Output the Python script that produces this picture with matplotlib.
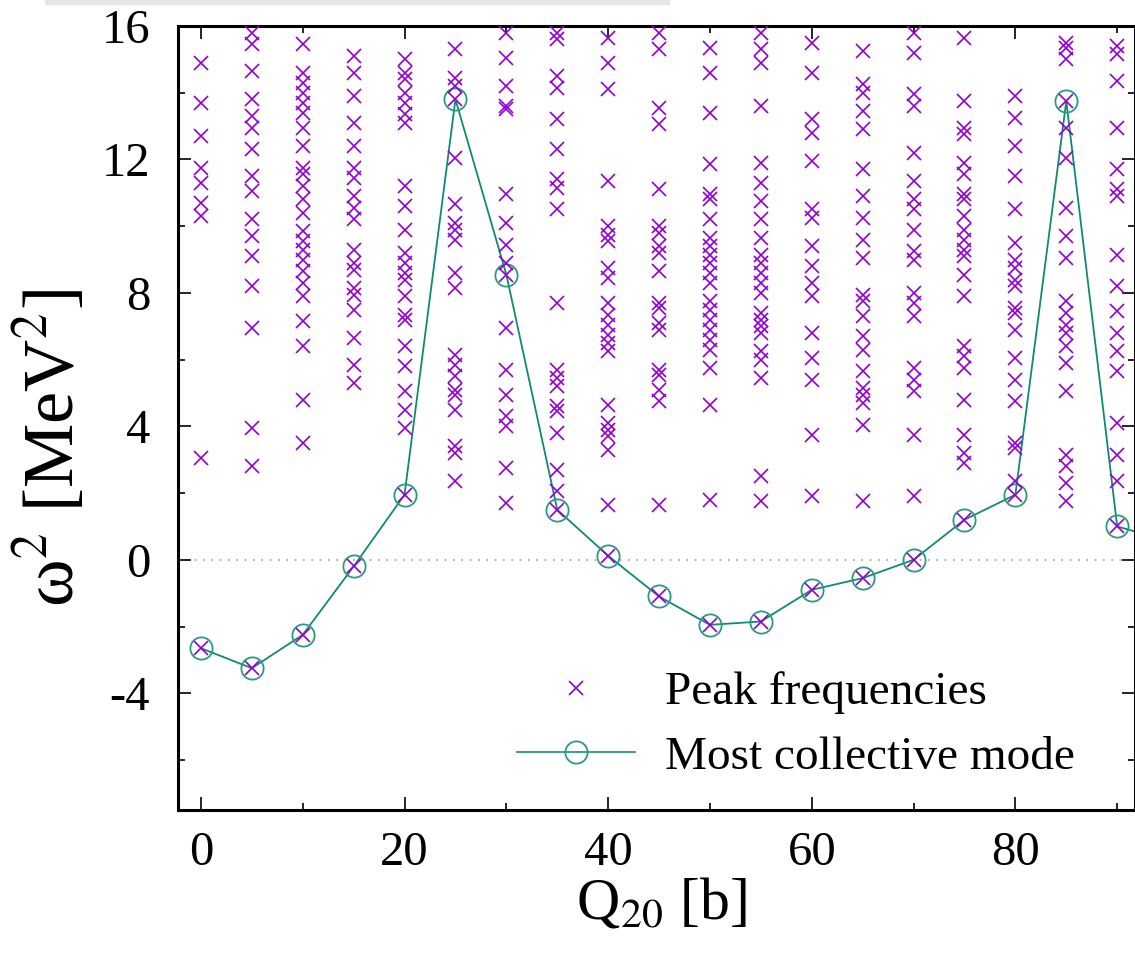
import numpy as np
import matplotlib
matplotlib.use("Agg")
import matplotlib.pyplot as plt
from matplotlib.lines import Line2D
from matplotlib.patches import Rectangle

# Q20 grid (b)
q20 = [0, 5, 10, 15, 20, 25, 30, 35, 40, 45, 50, 55, 60, 65, 70, 75, 80, 85, 90, 95]

# most collective mode, omega^2 (MeV^2)
collective = [-2.65, -3.25, -2.25, -0.2, 1.95, 13.8, 8.55, 1.5, 0.12, -1.1,
              -1.95, -1.85, -0.9, -0.55, 0.0, 1.2, 1.95, 13.75, 1.0, 0.57]

# other peak frequencies, one list per Q20 value
peaks_q00 = [14.9, 13.7, 12.7, 11.75, 11.3, 10.7, 10.3, 3.05]
peaks_q05 = [15.8, 15.45, 14.65, 13.8, 13.3, 12.95, 12.3, 11.5, 11.05, 10.2, 9.7,
             9.1, 8.2, 6.95, 3.95, 2.8]
peaks_q10 = [15.45, 14.6, 14.3, 14.0, 13.7, 13.4, 12.95, 12.4, 11.75, 11.55, 11.2,
             10.8, 10.4, 9.85, 9.55, 9.3, 9.0, 8.65, 8.3, 7.9, 7.15, 6.4, 4.8, 3.5]
peaks_q15 = [15.1, 14.6, 13.9, 13.1, 12.4, 11.75, 11.45, 10.9, 10.55, 10.2, 9.3,
             8.9, 8.7, 8.15, 7.95, 7.5, 6.65, 5.85, 5.3]
peaks_q20 = [15.0, 14.6, 14.4, 14.0, 13.7, 13.35, 13.1, 11.2, 10.6, 9.9, 9.2, 8.9,
             8.6, 8.4, 7.9, 7.35, 7.2, 6.4, 5.8, 5.05, 4.5, 3.95]
peaks_q25 = [15.3, 14.45, 14.2, 12.05, 10.65, 10.1, 9.9, 9.6, 8.6, 8.15, 6.15,
             5.85, 5.5, 5.1, 4.95, 4.5, 3.4, 3.2, 2.35]
peaks_q30 = [15.8, 15.05, 14.2, 13.6, 13.5, 10.95, 10.1, 9.45, 8.9, 6.95, 5.7,
             4.95, 4.3, 4.0, 2.75, 1.7]
peaks_q35 = [15.8, 15.6, 14.5, 14.15, 13.2, 12.3, 11.4, 11.15, 10.5, 7.7, 5.7,
             5.45, 5.2, 4.6, 4.45, 3.8, 2.7, 2.05]
peaks_q40 = [15.65, 14.9, 14.1, 11.35, 10.0, 9.75, 9.55, 8.75, 8.45, 7.7, 7.35,
             7.05, 6.75, 6.5, 6.25, 4.65, 4.1, 3.9, 3.7, 3.3, 1.65]
peaks_q45 = [15.8, 15.3, 13.55, 13.05, 11.1, 10.0, 9.8, 9.4, 9.2, 8.65, 7.7, 7.55,
             7.1, 6.9, 5.7, 5.55, 5.1, 4.75, 1.65]
peaks_q50 = [15.35, 14.6, 13.4, 11.85, 10.95, 10.8, 10.2, 9.65, 9.4, 9.15, 8.9,
             8.6, 8.3, 7.75, 7.5, 7.2, 6.9, 6.6, 6.3, 5.75, 4.65, 1.8]
peaks_q55 = [15.8, 15.3, 14.9, 13.6, 11.9, 11.3, 10.75, 10.2, 9.65, 9.15, 8.9,
             8.6, 8.3, 8.0, 7.4, 7.2, 7.0, 6.8, 6.25, 6.0, 5.45, 2.5, 1.75]
peaks_q60 = [15.5, 14.6, 13.2, 12.8, 11.95, 10.5, 10.25, 9.4, 8.8, 8.3, 7.9, 6.8,
             6.05, 5.4, 3.75, 1.9]
peaks_q65 = [15.25, 14.25, 14.0, 13.45, 12.9, 11.7, 10.9, 10.25, 9.6, 9.05, 7.95,
             7.75, 7.3, 6.7, 6.3, 5.65, 5.15, 4.95, 4.7, 4.05, 1.75]
peaks_q70 = [15.8, 15.2, 13.95, 13.6, 12.2, 11.35, 10.8, 10.5, 9.9, 9.25, 9.0, 8.0,
             7.7, 7.3, 5.75, 5.4, 5.05, 3.75, 1.9]
peaks_q75 = [15.65, 13.75, 12.95, 12.75, 11.9, 11.55, 10.95, 10.8, 10.3, 9.9, 9.6,
             9.3, 9.1, 8.55, 7.9, 6.4, 6.1, 5.75, 4.8, 3.75, 3.2, 2.9]
peaks_q80 = [13.9, 13.25, 12.4, 11.5, 10.5, 9.5, 9.0, 8.75, 8.4, 8.2, 7.55, 7.4,
             6.9, 6.05, 5.4, 4.75, 3.5, 3.35, 2.35]
peaks_q85 = [15.5, 15.35, 15.0, 12.95, 12.05, 10.55, 9.7, 9.05, 7.75, 7.4, 7.05,
             6.8, 6.4, 5.9, 5.05, 3.15, 2.8, 2.3, 1.75]
peaks_q90 = [15.4, 15.15, 14.35, 12.95, 11.7, 11.1, 10.9, 9.15, 8.2, 7.45, 6.8,
             6.25, 5.65, 4.1, 3.15, 2.35]
peaks_q95 = []

peak_lists = [peaks_q00, peaks_q05, peaks_q10, peaks_q15, peaks_q20, peaks_q25,
              peaks_q30, peaks_q35, peaks_q40, peaks_q45, peaks_q50, peaks_q55,
              peaks_q60, peaks_q65, peaks_q70, peaks_q75, peaks_q80, peaks_q85,
              peaks_q90, peaks_q95]

PURPLE = '#9400d3'
GREEN = '#0f8a74'
CIRC = '#2a9a80'

plt.rcParams['font.family'] = ['Liberation Serif', 'DejaVu Serif']
plt.rcParams['mathtext.fontset'] = 'stix'
plt.rcParams['axes.unicode_minus'] = False

fig = plt.figure(figsize=(11.35, 9.55), dpi=100)
ax = fig.add_axes([178/1135, 145/955, 957/1135, 784/955])

# light grey strip at the very top (screenshot leftover)
fig.patches.append(Rectangle((45/1135, 951/955), 624/1135, 4/955,
                             transform=fig.transFigure, color='#e6e6e6', zorder=0))

# every collective mode is also a peak
xs, ys = [], []
for q, pl, c in zip(q20, peak_lists, collective):
    for v in pl + [c]:
        xs.append(q)
        ys.append(v)

ax.axhline(0, color='#a0a0a0', lw=1.2, ls=(0, (1, 4)), zorder=1)
ax.plot(q20, collective, '-', color=GREEN, lw=1.3, zorder=2)
ax.plot(q20, collective, 'o', mfc='none', mec=CIRC, ms=16, mew=1.3, zorder=3)
ax.plot(xs, ys, 'x', color=PURPLE, ms=10, mew=1.2, zorder=4)

ax.set_xlim(-2.25, 91.75)
ax.set_ylim(-7.5, 16)
ax.set_xticks(np.arange(0, 81, 20))
ax.set_xticks(np.arange(0, 91, 10), minor=True)
ax.set_yticks(np.arange(-4, 17, 4))
ax.set_yticks(np.arange(-6, 17, 2), minor=True)
ax.tick_params(which='both', direction='in', top=True, right=True, width=1.2,
               labelsize=35)
ax.tick_params(which='major', length=9.5)
ax.tick_params(which='minor', length=5)
ax.tick_params(axis='x', pad=15)
ax.tick_params(axis='y', pad=20)
for s in ax.spines.values():
    s.set_linewidth(2.2)

ax.set_xlabel('Q$_{20}$ [b]', fontsize=43)
ax.set_ylabel('ω$^2$ [MeV$^2$]', fontsize=52)
ax.xaxis.set_label_coords(0.505, -0.085)
ax.yaxis.set_label_coords(-0.094, 0.462)

h1 = Line2D([], [], ls='none', marker='x', color=PURPLE, ms=10, mew=1.2)
h2 = Line2D([], [], color=CIRC, lw=1.3, marker='o', mfc='none', ms=16, mew=1.3)
ax.legend([h1, h2], ['Peak frequencies', 'Most collective mode'],
          loc='upper left', bbox_to_anchor=(0.354, 0.177), frameon=False,
          fontsize=34, handlelength=2.5, handletextpad=0.64, labelspacing=0.45,
          borderpad=0, borderaxespad=0, numpoints=1)

fig.savefig('out.png', dpi=100)
